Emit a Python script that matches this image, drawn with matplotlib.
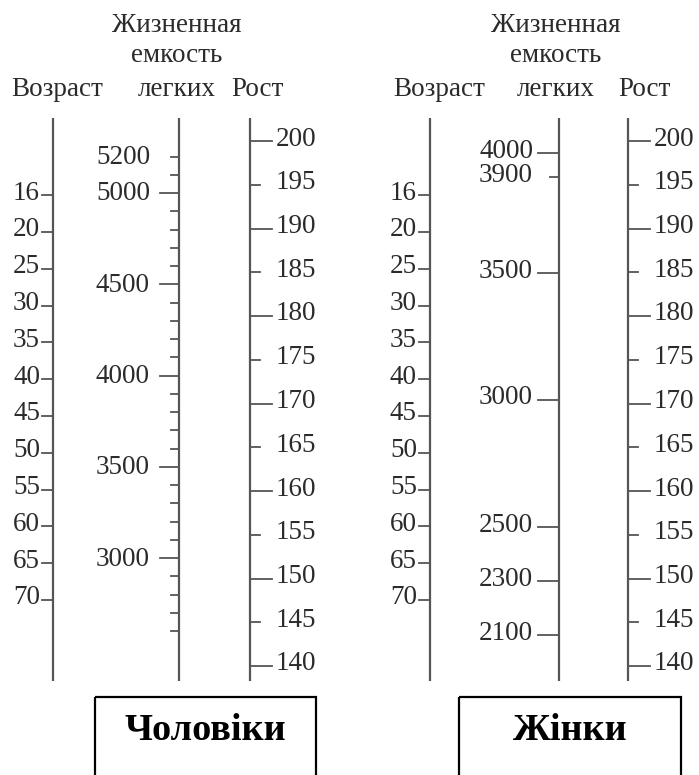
import numpy as np
import matplotlib
matplotlib.use('agg')
import matplotlib.pyplot as plt
from matplotlib.patches import Rectangle

# scale values of the nomogram
ages = [16, 20, 25, 30, 35, 40, 45, 50, 55, 60, 65, 70]
heights = [200, 195, 190, 185, 180, 175, 170, 165, 160, 155, 150, 145, 140]
vc_men_ticks = list(range(2600, 5300, 100))
vc_men_labels = [3000, 3500, 4000, 4500, 5000, 5200]
vc_women_labels = [4000, 3900, 3500, 3000, 2500, 2300, 2100]
panel_titles = ['Чоловіки', 'Жінки']

# scale calibrations (value -> vertical position on the sheet)
def age_y(a):
    return np.interp(a, [16, 20, 70], [195, 232, 600])

def height_y(h):
    return 141 + (200 - np.asarray(h)) * 8.75

def vc_men_y(v):
    return 193 + (5000 - np.asarray(v)) * 0.1825

def vc_women_y(v):
    return np.interp(v, [2100, 2500, 3500, 4000], [635, 527, 273, 153])

fig = plt.figure(figsize=(6.99, 7.75), dpi=100)
ax = fig.add_axes([0, 0, 1, 1])
ax.set_xlim(0, 699)
ax.set_ylim(775, 0)
ax.axis('off')

lc = '#555555'
tc = '#2b2b2b'
font = dict(family=['Liberation Serif', 'DejaVu Serif'], size=19.5, color=tc)
hfont = dict(family=['Liberation Serif', 'DejaVu Serif'], size=19.5, color=tc)

def header(x_age, x_vc, x_h):
    ax.text(x_vc, 25, 'Жизненная', ha='center', va='center', **hfont)
    ax.text(x_vc, 55, 'емкость', ha='center', va='center', **hfont)
    ax.text(x_age, 90, 'Возраст', ha='center', va='center', **hfont)
    ax.text(x_vc, 90, 'легких', ha='center', va='center', **hfont)
    ax.text(x_h, 90, 'Рост', ha='center', va='center', **hfont)

def age_axis(x):
    ax.plot([x, x], [118, 681], color=lc, lw=1.6, solid_capstyle='butt')
    for a in ages:
        y = age_y(a)
        ax.plot([x - 11, x], [y, y], color=lc, lw=1.3)
        ax.text(x - 13, y - 2, str(a), ha='right', va='center', **font)

def height_axis(x):
    ax.plot([x, x], [118, 681], color=lc, lw=1.6, solid_capstyle='butt')
    for h in heights:
        y = height_y(h)
        ln = 22 if h % 10 == 0 else 10
        ax.plot([x, x + ln], [y, y], color=lc, lw=1.3)
        ax.text(x + 26, y - 2, str(h), ha='left', va='center', **font)

def box(x0, x1, title):
    ax.add_patch(Rectangle((x0, 697), x1 - x0, 120, fill=False,
                           edgecolor='black', lw=1.6))
    ax.text((x0 + x1) / 2, 731, title, ha='center', va='center',
            family=['Liberation Serif', 'DejaVu Serif'], weight='bold',
            size=27.5, color='black')

# men
header(57, 177, 257)
age_axis(53)
x = 179
ax.plot([x, x], [118, 681], color=lc, lw=1.6, solid_capstyle='butt')
for v in vc_men_ticks:
    y = vc_men_y(v)
    ln = 19 if (v % 500 == 0) else 8
    ax.plot([x - ln, x], [y, y], color=lc, lw=1.3)
for v in vc_men_labels:
    ax.text(150, vc_men_y(v) + 1, str(v), ha='right', va='center', **font)
height_axis(250)
box(95, 316, panel_titles[0])

# women
header(439, 556, 644)
age_axis(430)
x = 559
ax.plot([x, x], [118, 681], color=lc, lw=1.6, solid_capstyle='butt')
for v in vc_women_labels:
    y = vc_women_y(v)
    ln = 9 if v == 3900 else 21
    ax.plot([x - ln, x], [y, y], color=lc, lw=1.3)
    ax.text(533, y - 2, str(v), ha='right', va='center', **font)
height_axis(628)
box(459, 681, panel_titles[1])

fig.savefig('out.png', dpi=100)
